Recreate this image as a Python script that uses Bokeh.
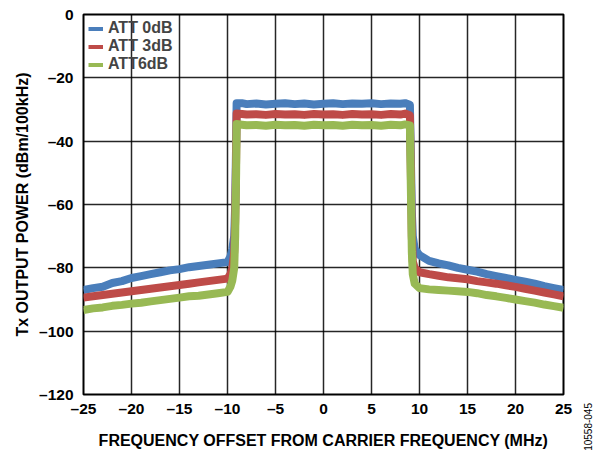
from bokeh.plotting import figure
from bokeh.layouts import row
from bokeh.models import Range1d, FixedTicker, Legend, LegendItem, Div
from bokeh.embed import file_html
from bokeh.resources import INLINE

# Frequency offset (MHz)
freq = [-25, -24, -23, -22, -21, -20, -19, -18, -17, -16, -15, -14, -13, -12, -11, -10,
        -9.7, -9.5, -9.3, -9.2, -9.1, -9.05,
        -8.5, -8, -7, -6, -5, -4, -3, -2, -1, 0, 1, 2, 3, 4, 5, 6, 7, 8, 8.5,
        9.0, 9.1, 9.2, 9.3, 9.5, 10, 11, 12, 13, 14, 15, 16, 17, 18, 19, 20,
        21, 22, 23, 24, 25]

att0 = [-87.0, -86.4, -86.0, -84.8, -84.2, -83.2, -82.6, -82.0, -81.4, -80.8, -80.4, -79.8, -79.4, -79.0, -78.6, -78.2,
        -76.5, -74.0, -70.0, -60.0, -40.0, -28.0,
        -28.0, -28.3, -28.1, -28.4, -28.2, -28.0, -28.3, -28.1, -28.4, -28.2, -28.0, -28.3, -28.1, -28.2, -28.0, -28.3, -28.1, -28.2, -28.0,
        -28.5, -45.0, -62.0, -70.0, -74.0, -76.0, -77.8, -78.6, -79.2, -80.0, -80.6, -81.2, -82.0, -82.6, -83.2, -83.8,
        -84.4, -85.0, -85.8, -86.4, -87.0]

att3 = [-89.4, -89.0, -88.6, -88.2, -87.8, -87.4, -87.0, -86.6, -86.2, -85.8, -85.4, -85.0, -84.6, -84.2, -83.8, -83.4,
        -82.0, -80.0, -75.0, -65.0, -45.0, -31.3,
        -31.4, -31.6, -31.5, -31.7, -31.4, -31.6, -31.5, -31.7, -31.4, -31.6, -31.5, -31.7, -31.4, -31.6, -31.5, -31.7, -31.4, -31.6, -31.3,
        -31.8, -50.0, -70.0, -78.0, -80.0, -81.4, -82.0, -82.5, -83.0, -83.3, -83.6, -84.2, -84.6, -85.0, -85.5, -86.0,
        -86.6, -87.2, -87.8, -88.4, -89.0]

att6 = [-93.3, -92.8, -92.5, -92.0, -91.7, -91.3, -91.0, -90.6, -90.2, -89.8, -89.4, -89.0, -88.8, -88.4, -88.0, -87.6,
        -86.0, -84.0, -80.0, -70.0, -50.0, -34.6,
        -34.8, -35.0, -34.9, -35.1, -34.8, -35.0, -34.9, -35.1, -34.8, -35.0, -34.9, -35.1, -34.8, -35.0, -34.9, -35.1, -34.8, -35.0, -34.7,
        -35.0, -55.0, -75.0, -82.0, -85.0, -86.4, -86.8, -87.0, -87.2, -87.4, -87.6, -88.0, -88.6, -89.0, -89.5, -90.0,
        -90.5, -91.0, -91.6, -92.1, -92.6]

series_names = ["ATT 0dB", "ATT 3dB", "ATT6dB"]
series_colors = ["#4a7ebb", "#be4b48", "#98b954"]

x_ticks = [-25, -20, -15, -10, -5, 0, 5, 10, 15, 20, 25]
y_ticks = [-120, -100, -80, -60, -40, -20, 0]

FONT = "Liberation Sans"

p = figure(width=575, height=451, output_backend="svg", toolbar_location=None,
           x_range=Range1d(-25, 25), y_range=Range1d(-120, 0),
           min_border_left=83, min_border_right=12, min_border_top=14, min_border_bottom=53)
p.background_fill_color = "white"
p.border_fill_color = "white"
p.outline_line_color = "black"
p.outline_line_width = 2

legend_renderers = []
for vals, col in zip([att0, att3, att6], series_colors):
    p.line(freq, vals, line_color=col, line_width=8, line_join="round")
    # thin twin line (hidden under the thick one) used for the legend swatch
    legend_renderers.append(p.line(freq, vals, line_color=col, line_width=4))

legend = Legend(items=[LegendItem(label=n, renderers=[r]) for n, r in zip(series_names, legend_renderers)],
                location="top_left")
legend.background_fill_alpha = 0
legend.border_line_color = None
legend.label_text_font = FONT
legend.label_text_font_style = "bold"
legend.label_text_font_size = "16px"
legend.label_text_line_height = 1.0
legend.label_height = 15
legend.glyph_height = 15
legend.glyph_width = 15
legend.spacing = -2
legend.padding = 0
legend.margin = 5
legend.label_standoff = 5
p.add_layout(legend)

def minus(v):
    return ("\u2013" + str(abs(v))) if v < 0 else str(v)

p.xaxis.ticker = FixedTicker(ticks=x_ticks)
p.yaxis.ticker = FixedTicker(ticks=y_ticks)
p.xaxis.major_label_overrides = {t: minus(t) for t in x_ticks}
p.yaxis.major_label_overrides = {t: minus(t) for t in y_ticks}
for ax in (p.xaxis, p.yaxis):
    ax.axis_line_color = None
    ax.major_tick_line_color = None
    ax.minor_tick_line_color = None
    ax.major_tick_out = 0
    ax.major_tick_in = 0
    ax.minor_tick_out = 0
    ax.major_label_text_font = FONT
    ax.major_label_text_font_style = "bold"
    ax.major_label_text_font_size = "15.5px"
    ax.major_label_text_color = "black"
    ax.axis_label_text_font = FONT
    ax.axis_label_text_font_style = "bold"
    ax.axis_label_text_color = "black"
p.xaxis.axis_label_text_font_size = "16px"
p.yaxis.axis_label_text_font_size = "16px"
p.xaxis.major_label_standoff = 5
p.yaxis.major_label_standoff = 10
p.xaxis.axis_label = "FREQUENCY OFFSET FROM CARRIER FREQUENCY (MHz)"
p.yaxis.axis_label = "Tx OUTPUT POWER (dBm/100kHz)"
p.xaxis.axis_label_standoff = 12
p.yaxis.axis_label_standoff = 5

p.grid.grid_line_color = "black"
p.grid.grid_line_width = 1.5
p.grid.grid_line_alpha = 0.85
p.xgrid.ticker = FixedTicker(ticks=x_ticks)
p.ygrid.ticker = FixedTicker(ticks=y_ticks)

# narrow side strip carrying the vertical figure code (reads bottom to top)
code = Div(width=20, height=451,
           text='<div style="width:20px; height:451px; display:flex; align-items:flex-end; '
                'justify-content:flex-start;">'
                '<span style="writing-mode:vertical-rl; transform:rotate(180deg); '
                'font-family:\'Liberation Sans\'; font-size:10px; line-height:10px; '
                'white-space:nowrap; color:black; margin-left:9px; margin-bottom:0px;">10558-045</span></div>',
           styles={"overflow": "visible", "margin": "0", "padding": "0"})

layout = row(p, code, spacing=0)
open("out.html", "w").write(file_html(layout, INLINE))
